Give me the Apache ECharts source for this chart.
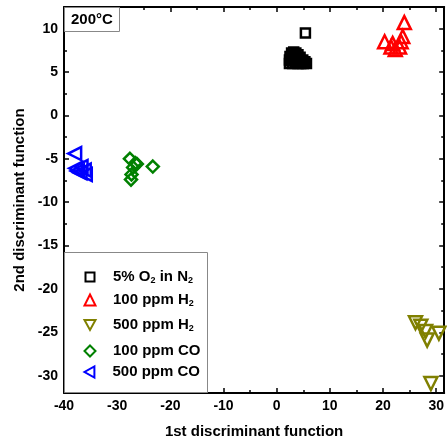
<!DOCTYPE html>
<html>
<head>
<meta charset="utf-8">
<script src="https://cdn.jsdelivr.net/npm/echarts@6/dist/echarts.min.js"></script>
<style>html,body{margin:0;padding:0;background:#fff}#c{width:447px;height:444px}</style>
</head>
<body>
<div id="c"></div>
<script>
// ---- data ----
const seriesNames = ['5% O2 in N2', '100 ppm H2', '500 ppm H2', '100 ppm CO', '500 ppm CO'];
const o2InN2 = [[2.4,6.0],[2.4,6.4],[2.5,6.8],[2.8,7.2],[3.2,7.3],[3.6,7.2],[4.0,7.0],[4.4,6.7],[4.9,6.4],[5.3,6.2],[5.6,6.0],[3.0,6.0],[3.5,6.1],[4.0,6.0],[4.5,6.0],[5.0,6.0],[3.0,6.6],[3.7,6.6],[4.2,6.4],[3.3,6.9],[2.7,6.3],[4.6,6.3],[5.4,9.5]];
const h2_100 = [[24.0,10.7],[20.3,8.5],[21.8,8.3],[23.7,9.1],[23.4,8.5],[22.3,7.6],[23.1,7.9],[21.5,7.9]];
const h2_500 = [[26.1,-23.9],[27.1,-24.3],[28.0,-24.9],[28.3,-25.9],[30.5,-25.1],[29.0,-30.9]];
const co_100 = [[-27.6,-5.0],[-26.6,-5.5],[-27.0,-6.0],[-26.3,-5.6],[-23.3,-5.9],[-27.3,-6.8],[-27.4,-7.4]];
const co_500 = [[-38.0,-4.4],[-37.8,-6.1],[-36.8,-5.9],[-36.2,-6.3],[-37.0,-6.6],[-36.0,-6.8],[-37.5,-6.4]];
const xMajorTicks = [-40,-30,-20,-10,0,10,20,30];
const xMinorTicks = [-35,-25,-15,-5,5,15,25];
const yMajorTicks = [-30,-25,-20,-15,-10,-5,0,5,10];
const yMinorTicks = [-27.5,-22.5,-17.5,-12.5,-7.5,-2.5,2.5,7.5];
const xRange = [-40, 31.5];
const yRange = [-32, 12.5];
const tempLabel = '200°C';
const xTitle = '1st discriminant function';
const yTitle = '2nd discriminant function';

// ---- styling ----
const FONT = '"Liberation Sans", Arial, sans-serif';
const colors = ['#000000', '#ff0000', '#808000', '#008000', '#0000ff'];
const symbols = ['rect', 'triangle', 'triangle', 'diamond', 'triangle'];
const rotates = [0, 0, 180, 0, 90];
const legendIcons = [undefined, undefined, 'path://M0,0 L10,0 L5,9 Z', undefined, 'path://M9,0 L9,10 L0,5 Z'];
const sizes = [9, 13, 13, 12, 13];
const legendSizes = [9, 11, 11, 11, 11];
const datasets = [o2InN2, h2_100, h2_500, co_100, co_500];
const richNames = {
  '5% O2 in N2': '{t|5% O}{s|2}{t| in N}{s|2}',
  '100 ppm H2': '{t|100 ppm H}{s|2}',
  '500 ppm H2': '{t|500 ppm H}{s|2}',
  '100 ppm CO': '{t|100 ppm CO}',
  '500 ppm CO': '{t|500 ppm CO}'
};
const legendCenters = [277, 300, 325, 351, 372];

function xAx(pos, ticks, len, showLine, showLabel, name) {
  return {
    type: 'value', min: xRange[0], max: xRange[1], position: pos,
    axisLine: {show: showLine, onZero: false, lineStyle: {color: '#000', width: 2}},
    axisTick: {show: true, inside: true, length: len, customValues: ticks, lineStyle: {color: '#000', width: 1.5}},
    axisLabel: {show: showLabel, customValues: ticks, color: '#000', fontSize: 14, fontWeight: 'bold', fontFamily: FONT, margin: 6},
    splitLine: {show: false},
    name: name || '', nameLocation: 'middle', nameGap: 31,
    nameTextStyle: {color: '#000', fontSize: 15, fontWeight: 'bold', fontFamily: FONT}
  };
}
function yAx(pos, ticks, len, showLine, showLabel, name) {
  return {
    type: 'value', min: yRange[0], max: yRange[1], position: pos,
    axisLine: {show: showLine, onZero: false, lineStyle: {color: '#000', width: 2}},
    axisTick: {show: true, inside: true, length: len, customValues: ticks, lineStyle: {color: '#000', width: 1.5}},
    axisLabel: {show: showLabel, customValues: ticks, color: '#000', fontSize: 14, fontWeight: 'bold', fontFamily: FONT, margin: 6},
    splitLine: {show: false},
    name: name || '', nameLocation: 'middle', nameGap: 35,
    nameTextStyle: {color: '#000', fontSize: 15, fontWeight: 'bold', fontFamily: FONT}
  };
}

const series = seriesNames.map((n, i) => ({
  type: 'scatter', name: n, data: datasets[i],
  xAxisIndex: 0, yAxisIndex: 0,
  symbol: symbols[i], symbolSize: sizes[i], symbolRotate: rotates[i],
  itemStyle: {color: 'rgba(255,255,255,0)', borderColor: colors[i], borderWidth: 2.5, opacity: 1},
  emphasis: {disabled: true}, z: 5
}));

const legends = seriesNames.map((n, i) => ({
  data: [legendIcons[i] ? {name: n, icon: legendIcons[i]} : n],
  orient: 'vertical', left: 89 - legendSizes[i] / 2, top: legendCenters[i] - 9,
  itemWidth: legendSizes[i], itemHeight: legendSizes[i], padding: 0, selectedMode: false,
  symbolKeepAspect: true,
  formatter: name => richNames[name],
  textStyle: {
    padding: [0, 0, 0, 18 - legendSizes[i] / 2], lineHeight: 18,
    rich: {
      t: {fontSize: 15, fontWeight: 'bold', color: '#000', fontFamily: FONT},
      s: {fontSize: 9, fontWeight: 'bold', color: '#000', fontFamily: FONT, padding: [8, 0, 0, 0]}
    }
  }
}));

const chart = echarts.init(document.getElementById('c'), null, {renderer: 'canvas'});
chart.setOption({
  animation: false,
  backgroundColor: '#fff',
  grid: {left: 64, right: 2, top: 7, bottom: 51, containLabel: false},
  xAxis: [
    xAx('bottom', xMajorTicks, 5, true, true, xTitle),
    xAx('bottom', xMinorTicks, 3, false, false),
    xAx('top', xMajorTicks, 5, true, false),
    xAx('top', xMinorTicks, 3, false, false)
  ],
  yAxis: [
    yAx('left', yMajorTicks, 5, true, true, yTitle),
    yAx('left', yMinorTicks, 3, false, false),
    yAx('right', yMajorTicks, 5, true, false),
    yAx('right', yMinorTicks, 3, false, false)
  ],
  title: {
    text: tempLabel, left: 64, top: 7,
    padding: [5, 7, 5, 7], borderColor: '#888', borderWidth: 1, backgroundColor: '#fff',
    textStyle: {fontSize: 15, fontWeight: 'bold', color: '#000', fontFamily: FONT}
  },
  graphic: [{
    type: 'rect', silent: true, z: 1,
    shape: {x: 64.5, y: 252.5, width: 143, height: 140},
    style: {fill: '#fff', stroke: '#888', lineWidth: 1}
  }],
  legend: legends,
  series: series
});
</script>
</body>
</html>
